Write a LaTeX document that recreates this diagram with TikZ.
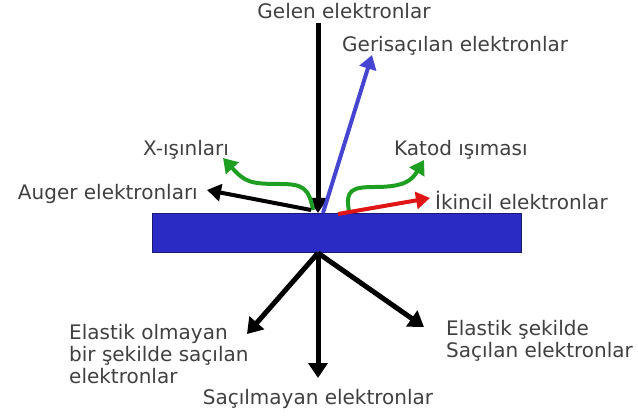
\documentclass[tikz,border=0pt]{standalone}
\usepackage{fontspec}
\setmainfont{DejaVu Sans}
\usepackage{xcolor}
\usetikzlibrary{calc,positioning,arrows.meta}
\definecolor{Plate}{HTML}{2A2AC4}
\definecolor{PlateEdge}{HTML}{1A1A70}
\definecolor{Back}{HTML}{4545D2}
\definecolor{Glow}{HTML}{1F9F22}
\definecolor{Second}{HTML}{E01515}
\definecolor{Label}{HTML}{404040}
\tikzset{
  lbl/.style={text=Label,font=\fontsize{20}{22}\selectfont,inner sep=0pt},
  ray/.style={line width=5pt,-{Triangle[length=15pt,width=19pt]}},
  thinray/.style={ray,line width=4pt,-{Triangle[length=14pt,width=17pt]}},
}

\begin{document}
\begin{tikzpicture}[x=1pt,y=-1pt]
\useasboundingbox (0,0) rectangle (638,417);
\node[fill=Plate,draw=PlateEdge,line width=.8pt,minimum width=369pt,minimum height=39pt,inner sep=0pt] (plate) at (336.5,232.5) {};
% labels
\node[lbl] (gelen) at (344,11) {Gelen elektronlar};
\node[lbl,anchor=west] (geri) at (342,46) {Gerisaçılan elektronlar};
\node[lbl] (xray) at (186,150) {X-ışınları};
\node[lbl,anchor=east] (auger) at (198,194) {Auger elektronları};
\node[lbl,anchor=west] (katod) at (394,150) {Katod ışıması};
\node[lbl,anchor=west] (ikincil) at (435,201) {İkincil elektronlar};
\node[lbl,anchor=west,align=left] (inel) at (69,354) {Elastik olmayan\\bir şekilde saçılan\\elektronlar};
\node[lbl] (sacil) at (318,399) {Saçılmayan elektronlar};
\node[lbl,anchor=west,align=left] (elas) at (446,341) {Elastik şekilde\\Saçılan elektronlar};
% arrow ends
\coordinate (hit) at (318,213);
\coordinate (exit) at (318,253);
\coordinate (inTop) at (318,23);
\coordinate (backStart) at (323,213);
\coordinate (backEnd) at (372,55);
\coordinate (xStart) at (313,210);
\coordinate (xEnd) at (223,158);
\coordinate (augStart) at (311,210);
\coordinate (augEnd) at (207,190);
\coordinate (katStart) at (349,211);
\coordinate (katEnd) at (424,160);
\coordinate (secStart) at (338,214);
\coordinate (secEnd) at (430,198);
\coordinate (inelEnd) at (247,334);
\coordinate (straightEnd) at (318,378);
\coordinate (elasEnd) at (424,327);
% incoming and backscattered
\draw[ray] (inTop) -- (hit);
\draw[thinray,Back] (backStart) -- (backEnd);
% x-rays and Auger
\draw[thinray,Glow] (xStart) .. controls (309,188) and (303,184) .. (280,184) .. controls (250,184) and (245,182) .. (xEnd);
\draw[thinray] (augStart) -- (augEnd);
% cathodoluminescence and secondary
\draw[thinray,Glow] (katStart) .. controls (345,190) and (352,187) .. (375,187) .. controls (405,187) and (412,180) .. (katEnd);
\draw[thinray,Second] (secStart) -- (secEnd);
% transmitted
\draw[ray] (exit) -- (inelEnd);
\draw[ray] (exit) -- (straightEnd);
\draw[ray] (exit) -- (elasEnd);
\end{tikzpicture}
\end{document}
